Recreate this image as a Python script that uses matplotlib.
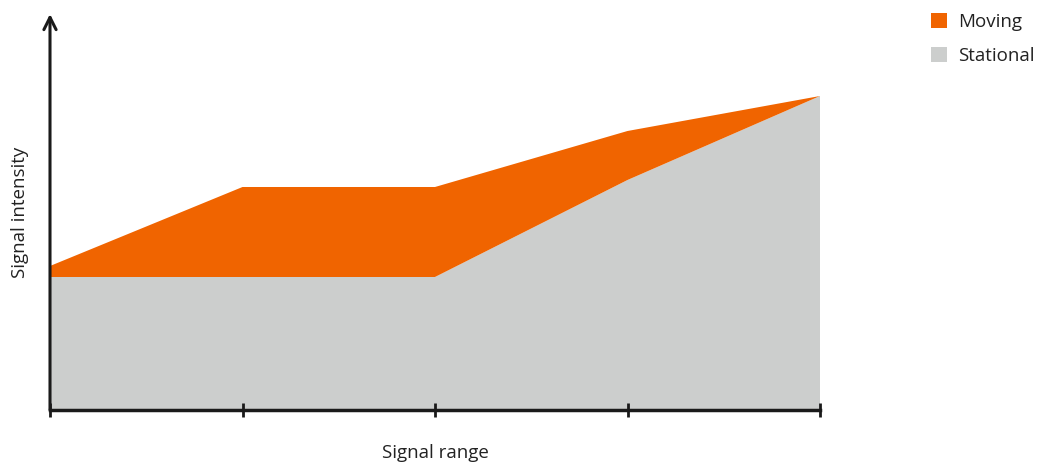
import numpy as np
import matplotlib.pyplot as plt
from matplotlib.patches import Patch

plt.rcParams['font.family'] = ['Open Sans', 'DejaVu Sans']

x = [0, 1, 2, 3, 4]
stational = [133, 133, 133, 230, 314]
moving = [11, 90, 90, 49, 0]

orange = '#f06400'
grey = '#cccecd'
dark = '#1a1a1a'
txt = '#222222'

fig = plt.figure(figsize=(10.45, 4.65), dpi=100)
ax = fig.add_axes([50 / 1045, 55 / 465, 770 / 1045, 396 / 465])

ax.stackplot(x, stational, moving, colors=[grey, orange], linewidth=0)

ax.set_xlim(0, 4)
ax.set_ylim(0, 396)
ax.set_xticks(x)
ax.set_xticklabels([])
ax.set_yticks([])
ax.tick_params(axis='x', direction='inout', length=10, width=2, color=dark)

for s in ['top', 'right', 'left']:
    ax.spines[s].set_visible(False)
ax.spines['bottom'].set_linewidth(2.5)
ax.spines['bottom'].set_color(dark)

# y axis drawn as an arrow
ax.annotate('', xy=(0, 1.0), xytext=(0, 0), xycoords='axes fraction',
            arrowprops=dict(arrowstyle='->', color=dark, lw=2.2,
                            mutation_scale=22, shrinkA=0, shrinkB=0),
            annotation_clip=False)

fig.text(435 / 1045, 1 - 453 / 465, 'Signal range', fontsize=13.5, color=txt,
         ha='center', va='center')
fig.text(20 / 1045, 1 - 212 / 465, 'Signal intensity', fontsize=13.5, color=txt,
         ha='center', va='center', rotation=90)

handles = [Patch(facecolor=orange, label='Moving'),
           Patch(facecolor=grey, label='Stational')]
fig.legend(handles=handles, loc='upper left', bbox_to_anchor=(918 / 1045, 1.0),
           frameon=False, fontsize=13.5, handlelength=0.85, handleheight=0.85,
           handletextpad=0.6, labelspacing=0.85, borderaxespad=0.3,
           labelcolor=txt)

fig.savefig('out.png', dpi=100)
